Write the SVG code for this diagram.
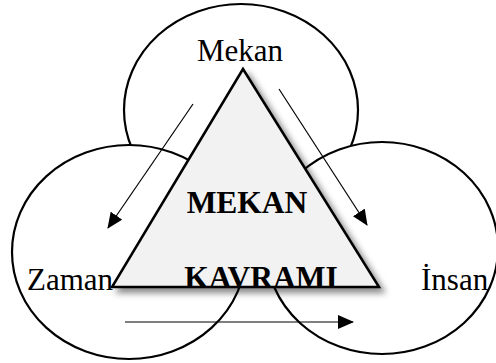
<svg xmlns="http://www.w3.org/2000/svg" width="496" height="363" viewBox="0 0 496 363">
<style>
.c{fill:#fff;stroke:#000;stroke-width:2.2}
.t{font-family:"Liberation Serif","Times New Roman",serif;font-size:31px;fill:#000}
.b{font-weight:bold;font-size:31.5px}
.a{stroke:#000;stroke-width:1.2;fill:none;marker-end:url(#ah)}
</style>
<defs>
<marker id="ah" markerUnits="userSpaceOnUse" markerWidth="16" markerHeight="14" refX="15" refY="7" orient="auto">
<path d="M0,0 L16,7 L0,14 Z" fill="#000"/>
</marker>
<filter id="sh" x="-20%" y="-20%" width="140%" height="140%">
<feDropShadow dx="5" dy="5" stdDeviation="3" flood-color="#000" flood-opacity="0.45"/>
</filter>
</defs>
<rect width="496" height="363" fill="#fff"/>
<g id="mekan">
<ellipse class="c" cx="241" cy="110" rx="117" ry="106"/>
<text class="t" x="240" y="61" text-anchor="middle">Mekan</text>
</g>
<g id="zaman">
<ellipse class="c" cx="129" cy="252" rx="117" ry="107"/>
</g>
<g id="insan">
<ellipse class="c" cx="382" cy="248" rx="116" ry="106"/>
</g>
<g id="kavram">
<polygon points="243,69 112,287 379,287" fill="#f2f2f2" stroke="#000" stroke-width="2.5" stroke-linejoin="miter" filter="url(#sh)"/>
<text class="t b" x="247" y="213" text-anchor="middle">MEKAN</text>
<text class="t b" x="261" y="288" text-anchor="middle">KAVRAMI</text>
</g>
<g id="labels">
<text class="t" x="27" y="290">Zaman</text>
<text class="t" x="421" y="290">İnsan</text>
</g>
<g id="connectors">
<line class="a" x1="193" y1="104" x2="108" y2="228"/>
<line class="a" x1="279" y1="89" x2="367" y2="225"/>
<line class="a" x1="125" y1="322" x2="353" y2="322"/>
</g>
</svg>
